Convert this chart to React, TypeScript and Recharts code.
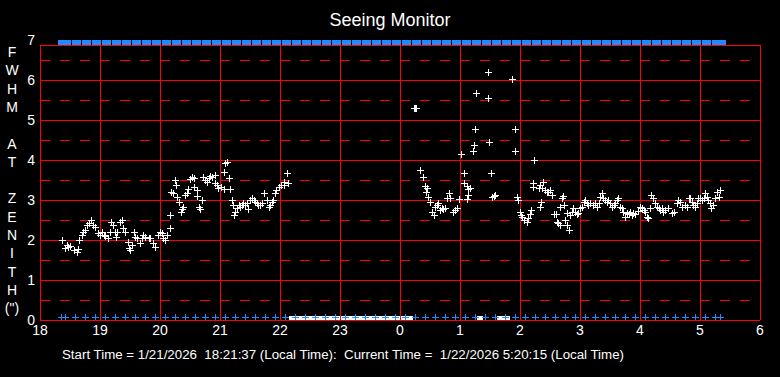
// @ts-nocheck
import {
  ScatterChart,
  Scatter,
  XAxis,
  YAxis,
  ReferenceLine,
  ReferenceArea,
} from "recharts";

// FWHM samples [hour, arcsec]; hours after midnight are written as 24+
const eveningSamples = [
  [18.37, 2.0], [18.42, 1.79], [18.45, 1.87], [18.47, 1.83], [18.5, 1.85],
  [18.56, 1.75], [18.61, 1.71], [18.63, 1.77], [18.65, 2.0], [18.7, 2.12],
  [18.72, 2.21], [18.75, 2.25], [18.78, 2.37], [18.81, 2.42], [18.85, 2.5],
  [18.89, 2.37], [18.92, 2.33], [18.97, 2.17], [19.0, 2.12], [19.03, 2.21],
  [19.06, 2.12], [19.08, 2.1], [19.13, 2.05], [19.17, 2.21], [19.19, 2.46],
  [19.22, 2.37], [19.25, 2.21], [19.26, 2.08], [19.28, 2.21], [19.33, 2.46],
  [19.36, 2.5], [19.39, 2.29], [19.42, 2.21], [19.46, 1.96], [19.48, 1.79],
  [19.5, 1.75], [19.53, 1.87], [19.57, 2.21], [19.58, 2.07], [19.61, 2.04],
  [19.67, 1.92], [19.7, 2.04], [19.72, 2.12], [19.75, 2.07], [19.81, 2.04],
  [19.83, 2.04], [19.89, 1.92], [19.92, 1.83], [19.97, 2.12], [20.0, 2.21],
  [20.03, 2.17], [20.05, 2.04], [20.08, 2.0], [20.11, 2.12], [20.16, 2.29],
  [20.17, 2.62], [20.19, 3.21], [20.22, 3.17], [20.25, 3.5], [20.26, 3.37],
  [20.28, 3.08], [20.31, 2.96], [20.35, 2.71], [20.37, 2.77], [20.39, 2.83],
  [20.42, 3.12], [20.45, 3.17], [20.47, 3.27], [20.5, 3.52], [20.53, 3.57],
  [20.56, 3.54], [20.57, 3.33], [20.61, 3.25], [20.62, 3.1], [20.65, 2.83],
  [20.67, 2.77], [20.7, 3.0], [20.72, 3.58], [20.75, 3.5], [20.78, 3.46],
  [20.81, 3.54], [20.83, 3.6], [20.86, 3.58], [20.91, 3.62], [20.92, 3.42],
  [20.95, 3.37], [20.97, 3.29], [21.02, 3.33], [21.06, 3.27], [21.07, 3.71],
  [21.08, 3.92], [21.11, 3.96], [21.15, 3.54], [21.17, 3.27], [21.2, 3.0],
  [21.22, 2.87], [21.24, 2.62], [21.25, 2.71], [21.28, 2.79], [21.31, 2.87],
  [21.33, 2.83], [21.36, 2.87], [21.39, 2.92], [21.42, 2.87], [21.45, 2.92],
  [21.46, 2.77], [21.5, 3.0], [21.53, 3.04], [21.56, 3.0], [21.58, 2.96],
  [21.61, 2.92], [21.64, 2.87], [21.67, 2.87], [21.7, 2.92], [21.74, 3.17],
  [21.78, 3.0], [21.81, 2.83], [21.83, 2.87], [21.86, 2.96], [21.89, 3.0],
  [21.92, 3.17], [21.94, 3.25], [21.98, 3.33], [22.02, 3.37], [22.06, 3.46],
  [22.07, 3.37], [22.11, 3.67], [22.13, 3.42],
];

const morningSamples = [
  [24.23, 5.3], [24.25, 5.29], [24.27, 5.3], [24.33, 3.75], [24.39, 3.57],
  [24.42, 3.35], [24.43, 3.21], [24.45, 3.29], [24.47, 3.08], [24.5, 2.96],
  [24.53, 2.71], [24.56, 2.62], [24.58, 2.83], [24.61, 2.87], [24.64, 2.92],
  [24.67, 2.75], [24.7, 2.79], [24.72, 2.77], [24.75, 2.81], [24.78, 3.04],
  [24.81, 3.17], [24.83, 3.04], [24.89, 2.71], [24.92, 2.75], [24.95, 2.79],
  [24.98, 3.02], [25.02, 4.14], [25.06, 3.67], [25.07, 3.43], [25.11, 3.35],
  [25.12, 3.02], [25.13, 3.12], [25.14, 3.27], [25.17, 3.29], [25.22, 4.22],
  [25.24, 4.37], [25.25, 4.77], [25.27, 5.67], [25.46, 6.19], [25.47, 5.54],
  [25.49, 4.44], [25.51, 3.67], [25.53, 3.07], [25.56, 3.1], [25.58, 3.12],
  [25.87, 6.02], [25.91, 4.77], [25.92, 4.22], [25.95, 3.08], [25.96, 3.0],
  [26.0, 2.71], [26.02, 2.62], [26.04, 2.58], [26.07, 2.5], [26.11, 2.46],
  [26.14, 2.54], [26.17, 2.65], [26.18, 2.75], [26.21, 3.33], [26.22, 3.42],
  [26.24, 4.0], [26.31, 3.29], [26.33, 3.37], [26.33, 2.83], [26.35, 2.96],
  [26.36, 3.31], [26.39, 3.46], [26.42, 3.25], [26.45, 3.21], [26.47, 3.21],
  [26.5, 3.25], [26.53, 3.12], [26.56, 2.64], [26.6, 2.64], [26.61, 2.46],
  [26.64, 2.42], [26.67, 2.37], [26.67, 2.83], [26.7, 3.06], [26.72, 3.1],
  [26.74, 2.87], [26.75, 2.5], [26.78, 2.37], [26.78, 2.67], [26.81, 2.25],
  [26.83, 2.62], [26.86, 2.71], [26.89, 2.79], [26.92, 2.71], [26.95, 2.64],
  [26.97, 2.67], [27.0, 2.79], [27.03, 2.83], [27.06, 2.96], [27.08, 3.0],
  [27.11, 2.92], [27.14, 2.87], [27.17, 2.92], [27.22, 2.87], [27.25, 2.92],
  [27.28, 2.83], [27.31, 2.92], [27.33, 3.08], [27.36, 3.17], [27.39, 3.04],
  [27.42, 3.0], [27.45, 2.96], [27.47, 3.0], [27.5, 2.92], [27.53, 2.83],
  [27.56, 2.87], [27.58, 2.92], [27.61, 3.0], [27.64, 3.04], [27.67, 2.83],
  [27.7, 2.79], [27.72, 2.71], [27.75, 2.58], [27.78, 2.67], [27.81, 2.64],
  [27.83, 2.71], [27.86, 2.62], [27.89, 2.67], [27.92, 2.64], [27.97, 2.73],
  [28.0, 2.83], [28.03, 2.79], [28.06, 2.75], [28.08, 2.71], [28.11, 2.58],
  [28.14, 2.54], [28.17, 2.79], [28.19, 3.12], [28.22, 3.04], [28.25, 2.92],
  [28.28, 2.83], [28.31, 2.79], [28.33, 2.75], [28.36, 2.79], [28.39, 2.71],
  [28.42, 2.75], [28.47, 2.79], [28.53, 2.67], [28.56, 2.71], [28.61, 2.92],
  [28.64, 3.0], [28.67, 2.96], [28.7, 2.83], [28.75, 2.87], [28.78, 2.83],
  [28.81, 3.04], [28.83, 3.06], [28.86, 2.96], [28.89, 2.87], [28.92, 2.83],
  [28.95, 2.92], [28.97, 3.04], [29.0, 3.04], [29.03, 3.0], [29.06, 3.04],
  [29.08, 3.17], [29.11, 3.08], [29.14, 3.0], [29.17, 2.92], [29.19, 2.79],
  [29.22, 2.87], [29.25, 3.04], [29.28, 3.21], [29.31, 3.08], [29.33, 3.25],
];

// status markers (blue) along top and bottom edges
const statusTimes = [
  "18:21", "18:25", "18:35", "18:45", "18:55",
  "19:05", "19:15", "19:25", "19:35", "19:45", "19:55",
  "20:05", "20:15", "20:25", "20:35", "20:45", "20:55",
  "21:05", "21:15", "21:25", "21:35", "21:45", "21:55",
  "22:05", "22:15", "22:25", "22:35", "22:45", "22:55",
  "23:05", "23:15", "23:25", "23:35", "23:45", "23:55",
  "00:05", "00:15", "00:25", "00:35", "00:45", "00:55",
  "01:05", "01:15", "01:25", "01:35", "01:45", "01:55",
  "02:05", "02:15", "02:25", "02:35", "02:45", "02:55",
  "03:05", "03:15", "03:25", "03:35", "03:45", "03:55",
  "04:05", "04:15", "04:25", "04:35", "04:45", "04:55",
  "05:05", "05:15", "05:20",
];

// periods without a measurement (white blocks on the bottom edge)
const noDataRanges = [
  [22.15, 24.22],
  [25.29, 25.38],
  [25.62, 25.83],
];

const hourTicks = [18, 19, 20, 21, 22, 23, 24, 25, 26, 27, 28, 29, 30];
const fwhmTicks = [0, 1, 2, 3, 4, 5, 6, 7];
const halfLines = [0.5, 1.5, 2.5, 3.5, 4.5, 5.5, 6.5];
const frameTop = 6.875;
const axisLabel = ["F", "W", "H", "M", "", "A", "T", "", "Z", "E", "N", "I", "T", "H", "(\")"];

const RED = "#FF0000";
const BLUE = "#1E8CFF";
const FONT = '"Liberation Sans", Arial, sans-serif';

const toHour = (s: string) => {
  const [h, m] = s.split(":").map(Number);
  return (h < 12 ? h + 24 : h) + m / 60;
};

const seeing = [...eveningSamples, ...morningSamples].map(([x, y]) => ({ x, y }));
const topStatus = statusTimes.map((s) => ({ x: toHour(s), y: 7 }));
const bottomStatus = statusTimes.map((s) => ({ x: toHour(s), y: 0 }));

// "+" marker built from two 1px rects so it stays crisp
const Plus = ({ cx, cy, color, lift = 0 }) => {
  const x = Math.round(cx);
  const y = Math.round(cy) - lift;
  return (
    <g fill={color} shapeRendering="crispEdges">
      <rect x={x - 3} y={y} width={7} height={1} />
      <rect x={x} y={y - 3} width={1} height={7} />
    </g>
  );
};

const WhitePlus = (p) => <Plus cx={p.cx} cy={p.cy} color="#FFFFFF" />;
const BluePlus = (p) => <Plus cx={p.cx} cy={p.cy} color={BLUE} lift={3} />;

const TopBlock = ({ cx, cy }) => (
  <rect
    x={Math.round(cx) - 3}
    y={Math.round(cy)}
    width={9}
    height={5}
    fill={BLUE}
    shapeRendering="crispEdges"
  />
);

export default function App() {
  return (
    <div
      style={{
        position: "fixed",
        left: 0,
        top: 0,
        width: 780,
        height: 377,
        background: "#000",
      }}
    >
      <ScatterChart
        width={780}
        height={377}
        margin={{ top: 40, right: 20, bottom: 27, left: 0 }}
      >
        <XAxis
          type="number"
          dataKey="x"
          domain={[18, 30]}
          ticks={hourTicks}
          tickFormatter={(v) => String(v % 24)}
          axisLine={false}
          tickLine={false}
          tickSize={0}
          tickMargin={5}
          height={30}
          interval={0}
          allowDataOverflow
          tick={{ fill: "#FFFFFF", fontSize: 14, fontFamily: FONT }}
        />
        <YAxis
          type="number"
          dataKey="y"
          domain={[0, 7]}
          ticks={fwhmTicks}
          axisLine={false}
          tickLine={false}
          tickSize={0}
          tickMargin={5}
          width={40}
          interval={0}
          allowDataOverflow
          tick={{ fill: "#FFFFFF", fontSize: 14, fontFamily: FONT }}
        />
        {halfLines.map((v) => (
          <ReferenceLine
            key={"h" + v}
            y={v}
            stroke={RED}
            strokeDasharray="10 10"
            shapeRendering="crispEdges"
          />
        ))}
        {[0, 1, 2, 3, 4, 5, 6, frameTop].map((v) => (
          <ReferenceLine
            key={"s" + v}
            y={v}
            stroke={RED}
            shapeRendering="crispEdges"
          />
        ))}
        {hourTicks.map((h) => (
          <ReferenceLine
            key={"v" + h}
            segment={[
              { x: h, y: 0 },
              { x: h, y: frameTop },
            ]}
            stroke={RED}
            shapeRendering="crispEdges"
          />
        ))}
        {noDataRanges.map(([a, b]) => (
          <ReferenceArea
            key={"n" + a}
            x1={a}
            x2={b}
            y1={-0.02}
            y2={0.11}
            fill="#FFFFFF"
            fillOpacity={1}
            stroke="none"
            ifOverflow="visible"
            shapeRendering="crispEdges"
          />
        ))}
        <Scatter
          data={bottomStatus}
          shape={BluePlus}
          isAnimationActive={false}
        />
        <Scatter data={topStatus} shape={TopBlock} isAnimationActive={false} />
        <Scatter data={seeing} shape={WhitePlus} isAnimationActive={false} />
      </ScatterChart>
      <svg
        width={780}
        height={377}
        style={{ position: "absolute", left: 0, top: 0, pointerEvents: "none" }}
      >
        <text
          x={390}
          y={20}
          fill="#FFFFFF"
          fontSize={18}
          fontFamily={FONT}
          textAnchor="middle"
          dominantBaseline="central"
        >
          Seeing Monitor
        </text>
        {axisLabel.map((ch, i) =>
          ch ? (
            <text
              key={i}
              x={12}
              y={52 + i * 18.3}
              fill="#FFFFFF"
              fontSize={14}
              fontFamily={FONT}
              textAnchor="middle"
              dominantBaseline="central"
            >
              {ch}
            </text>
          ) : null
        )}
        <text
          x={62}
          y={355}
          fill="#FFFFFF"
          fontSize={12}
          fontFamily={FONT}
          dominantBaseline="central"
          textLength={562}
          lengthAdjust="spacingAndGlyphs"
          xmlSpace="preserve"
        >
          {"Start Time = 1/21/2026  18:21:37 (Local Time):  Current Time =  1/22/2026 5:20:15 (Local Time)"}
        </text>
      </svg>
    </div>
  );
}
